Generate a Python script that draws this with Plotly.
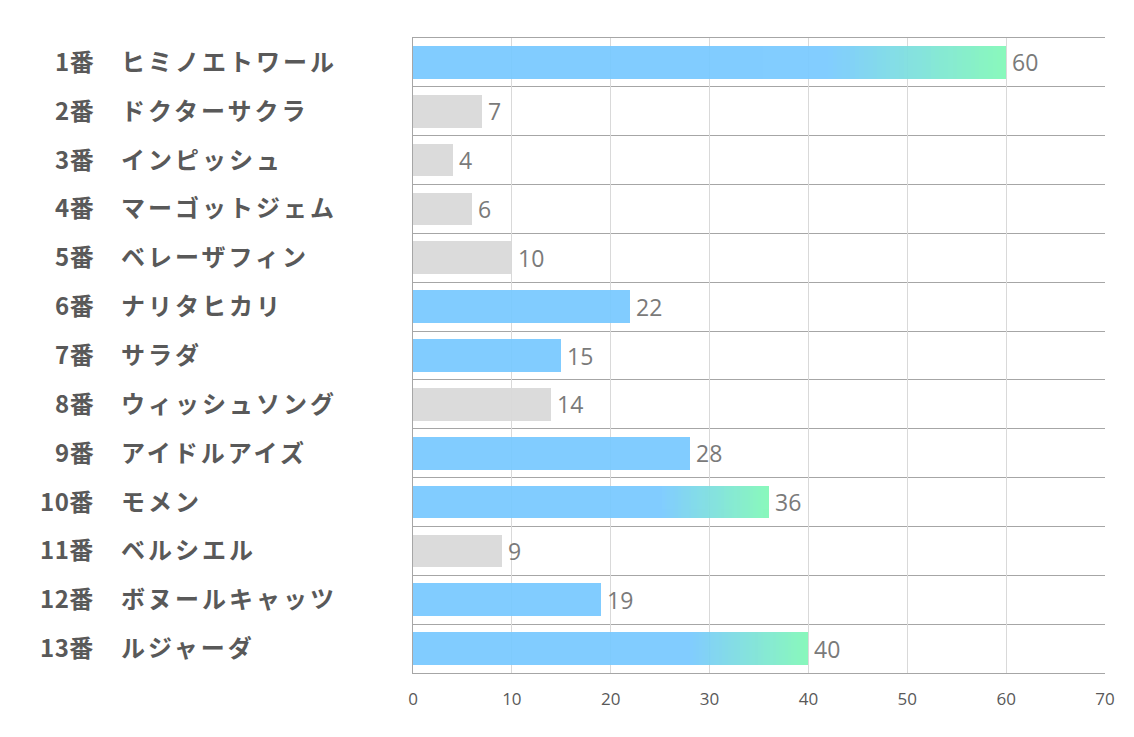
import plotly.graph_objects as go

numbers = ["1番", "2番", "3番", "4番", "5番", "6番", "7番", "8番", "9番", "10番", "11番", "12番", "13番"]
names = ["ヒミノエトワール", "ドクターサクラ", "インピッシュ", "マーゴットジェム", "ベレーザフィン",
         "ナリタヒカリ", "サラダ", "ウィッシュソング", "アイドルアイズ", "モメン", "ベルシエル",
         "ボヌールキャッツ", "ルジャーダ"]
values = [60, 7, 4, 6, 10, 22, 15, 14, 28, 36, 9, 19, 40]
# bar style group: "g" = gradient, "b" = blue, "n" = gray
groups = ["g", "n", "n", "n", "n", "b", "b", "n", "b", "g", "n", "b", "g"]
x_ticks = [0, 10, 20, 30, 40, 50, 60, 70]

BLUE = (120, 201, 255)
GREEN = (128, 248, 182)
GRAY = "#D9D9D9"
GRAD_START = 0.7
NSEG = 40
BAR_W = 0.67
OPAC = 0.93

rows = list(range(len(values)))
plot_l, plot_r = 413, 29
plot_w = 1134 - plot_l - plot_r


def rgb(c):
    return "rgb(%d,%d,%d)" % c


def px_to_paper(px):
    return (px - plot_l) / plot_w


fig = go.Figure()

# solid part of each bar
solid_len = [v * GRAD_START if g == "g" else v for v, g in zip(values, groups)]
solid_col = [GRAY if g == "n" else rgb(BLUE) for g in groups]
fig.add_trace(go.Bar(
    y=rows, x=solid_len, base=[0] * len(values), orientation="h",
    marker=dict(color=solid_col, line=dict(width=0)), opacity=OPAC,
    width=BAR_W, hoverinfo="skip", showlegend=False))

# gradient parts
for k in range(NSEG):
    t = (k + 0.5) / NSEG
    col = tuple(int(round(BLUE[j] + (GREEN[j] - BLUE[j]) * t)) for j in range(3))
    seg_base, seg_len = [], []
    for v, g in zip(values, groups):
        if g == "g":
            g0 = v * GRAD_START
            step = (v - g0) / NSEG
            seg_base.append(g0 + k * step)
            seg_len.append(step)
        else:
            seg_base.append(0)
            seg_len.append(0)
    fig.add_trace(go.Bar(
        y=rows, x=seg_len, base=seg_base, orientation="h",
        marker=dict(color=rgb(col), line=dict(width=0)), opacity=OPAC,
        width=BAR_W, hoverinfo="skip", showlegend=False))

annotations = []
for i, (n, nm, v) in enumerate(zip(numbers, names, values)):
    annotations.append(dict(x=v, y=i, xref="x", yref="y", text=str(v), showarrow=False,
                            xanchor="left", xshift=4, yshift=0,
                            font=dict(family="Open Sans", size=23, color="#7A7A7A")))
    annotations.append(dict(x=px_to_paper(96), y=i, xref="paper", yref="y",
                            text='<span style="letter-spacing:0.5px">%s</span>' % n,
                            showarrow=False, xanchor="right", yshift=2,
                            font=dict(family="Noto Sans CJK JP", size=24, color="#595959",
                                      weight="bold")))
    annotations.append(dict(x=px_to_paper(119), y=i, xref="paper", yref="y",
                            text='<span style="letter-spacing:3px">%s</span>' % nm,
                            showarrow=False, xanchor="left", yshift=2,
                            font=dict(family="Noto Sans CJK JP", size=24, color="#595959",
                                      weight="bold")))

fig.update_layout(
    width=1134, height=737,
    margin=dict(l=plot_l, r=plot_r, t=38, b=64),
    paper_bgcolor="white", plot_bgcolor="white",
    barmode="overlay", bargap=0,
    annotations=annotations,
    xaxis=dict(range=[0, 70], tickvals=x_ticks, showgrid=True, gridcolor="#D9D9D9",
               gridwidth=1, zeroline=False, showline=True, linecolor="#A6A6A6",
               mirror=True, ticks="", ticklabelstandoff=11,
               tickfont=dict(family="Liberation Sans Narrow, Open Sans", size=17, color="#595959"),
               fixedrange=True),
    yaxis=dict(range=[12.5, -0.5], tickvals=rows, ticktext=[""] * len(rows),
               showgrid=False, zeroline=False, showline=True, linecolor="#A6A6A6",
               mirror=False,
               minor=dict(tickvals=[i - 0.5 for i in range(len(rows) + 1)], showgrid=True,
                          gridcolor="#A6A6A6", gridwidth=1, ticks=""),
               fixedrange=True),
)

fig.write_html("out.html")
